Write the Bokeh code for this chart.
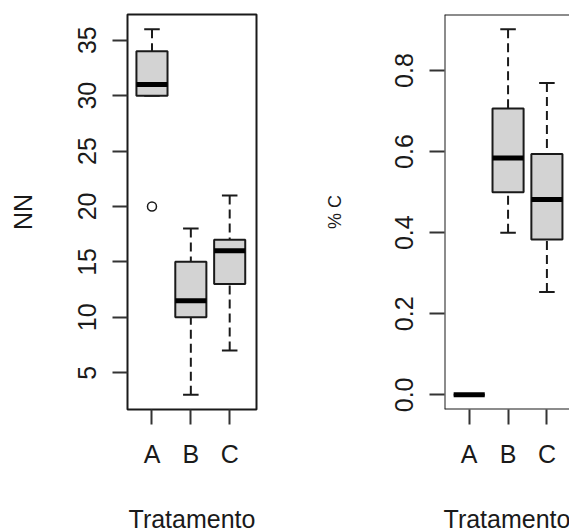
from bokeh.plotting import figure
from bokeh.layouts import row
from bokeh.models import ColumnDataSource, FixedTicker, Range1d, Span, PrintfTickFormatter
from bokeh.embed import file_html
from bokeh.resources import INLINE

# ---------------- data ----------------
categories = ["A", "B", "C"]

nn_lower = [30, 3, 7]
nn_q1 = [30, 10, 13]
nn_median = [31, 11.5, 16]
nn_q3 = [34, 15, 17]
nn_upper = [36, 18, 21]
nn_outlier_cat = ["A"]
nn_outlier_val = [20]
nn_ticks = [5, 10, 15, 20, 25, 30, 35]

pc_lower = [0.0, 0.40, 0.254]
pc_q1 = [0.0, 0.50, 0.383]
pc_median = [0.0, 0.584, 0.482]
pc_q3 = [0.0, 0.706, 0.594]
pc_upper = [0.0, 0.902, 0.769]
pc_outlier_cat = []
pc_outlier_val = []
pc_ticks = [0.0, 0.2, 0.4, 0.6, 0.8]

FONT = "Liberation Sans"
BOX_FILL = "#d3d3d3"
INK = "#1a1a1a"


def make_panel(lower, q1, med, q3, upper, out_cat, out_val, ticks, ylabel,
               ylabel_size, ylabel_standoff, x_start, x_end, border_left,
               frame_w, border_right, own_outline, fmt=None):
    pos = [categories.index(c) + 1 for c in categories]
    allvals = lower + upper + out_val
    lo, hi = min(allvals), max(allvals)
    pad = 0.04 * (hi - lo)
    p = figure(frame_width=frame_w, frame_height=395,
               min_border_left=border_left, min_border_right=border_right,
               min_border_top=14, min_border_bottom=122,
               x_range=Range1d(x_start, x_end),
               y_range=Range1d(lo - pad, hi + pad),
               output_backend="svg", toolbar_location=None)
    p.xgrid.visible = False
    p.ygrid.visible = False
    p.background_fill_color = "white"
    p.border_fill_color = "white"

    src = ColumnDataSource(dict(
        x=pos,
        xl=[v - 0.4 for v in pos], xr=[v + 0.4 for v in pos],
        sl=[v - 0.2 for v in pos], sr=[v + 0.2 for v in pos],
        lower=lower, q1=q1, med=med, q3=q3, upper=upper))

    # whiskers (dashed), drawn from extremes toward the box
    p.segment(x0="x", y0="lower", x1="x", y1="q1", source=src,
              line_color=INK, line_width=2, line_dash="9 5")
    p.segment(x0="x", y0="upper", x1="x", y1="q3", source=src,
              line_color=INK, line_width=2, line_dash="9 5")
    # staples
    p.segment(x0="sl", y0="lower", x1="sr", y1="lower", source=src,
              line_color=INK, line_width=2)
    p.segment(x0="sl", y0="upper", x1="sr", y1="upper", source=src,
              line_color=INK, line_width=2)
    # boxes
    p.quad(left="xl", right="xr", bottom="q1", top="q3", source=src,
           fill_color=BOX_FILL, line_color=INK, line_width=2)
    # medians
    p.segment(x0="xl", y0="med", x1="xr", y1="med", source=src,
              line_color="black", line_width=5, line_cap="butt")
    # outliers
    if out_val:
        osrc = ColumnDataSource(dict(
            x=[categories.index(c) + 1 for c in out_cat], y=out_val))
        p.scatter(x="x", y="y", source=osrc, marker="circle", size=9,
                  fill_color=None, line_color=INK, line_width=1.5)

    # x axis
    xa = p.xaxis[0]
    xa.ticker = FixedTicker(ticks=pos)
    xa.major_label_overrides = {v: c for v, c in zip(pos, categories)}
    xa.axis_line_color = None
    xa.minor_tick_line_color = None
    xa.major_tick_in = 0
    xa.major_tick_out = 15
    xa.major_tick_line_width = 2
    xa.major_tick_line_color = "#333333"
    xa.major_label_text_font = FONT
    xa.major_label_text_font_size = "25px"
    xa.major_label_text_color = INK
    xa.major_label_standoff = 15
    xa.axis_label = "Tratamento"
    xa.axis_label_text_font = FONT
    xa.axis_label_text_font_size = "25px"
    xa.axis_label_text_font_style = "normal"
    xa.axis_label_text_color = INK
    xa.axis_label_standoff = 34

    # y axis
    ya = p.yaxis[0]
    ya.ticker = FixedTicker(ticks=ticks)
    if fmt:
        ya.formatter = PrintfTickFormatter(format=fmt)
    ya.axis_line_color = None
    ya.minor_tick_line_color = None
    ya.major_tick_in = 0
    ya.major_tick_out = 15
    ya.major_tick_line_width = 2
    ya.major_tick_line_color = "#333333"
    ya.major_label_orientation = "vertical"
    ya.major_label_text_font = FONT
    ya.major_label_text_font_size = "25px"
    ya.major_label_text_color = INK
    ya.major_label_standoff = 16
    ya.axis_label = ylabel
    ya.axis_label_text_font = FONT
    ya.axis_label_text_font_size = ylabel_size
    ya.axis_label_text_font_style = "normal"
    ya.axis_label_text_color = INK
    ya.axis_label_standoff = ylabel_standoff

    if own_outline:
        p.outline_line_color = INK
        p.outline_line_width = 2
        p.outline_line_alpha = 1
    else:
        p.outline_line_color = None
        for loc, dim in ((x_start, "height"), (lo - pad, "width"), (hi + pad, "width")):
            p.add_layout(Span(location=loc, dimension=dim, line_color=INK,
                              line_width=2))
    return p


p1 = make_panel(nn_lower, nn_q1, nn_median, nn_q3, nn_upper,
                nn_outlier_cat, nn_outlier_val, nn_ticks, "NN", "25px", 39,
                0.37, 3.69, 127, 129, 28, True)
p2 = make_panel(pc_lower, pc_q1, pc_median, pc_q3, pc_upper,
                pc_outlier_cat, pc_outlier_val, pc_ticks, "% C", "18px", 48,
                0.364, 0.364 + 125 / 38.85, 160, 125, 0, False, fmt="%.1f")

p = row(p1, p2, spacing=0)

open("out.html", "w").write(file_html(p, INLINE))
